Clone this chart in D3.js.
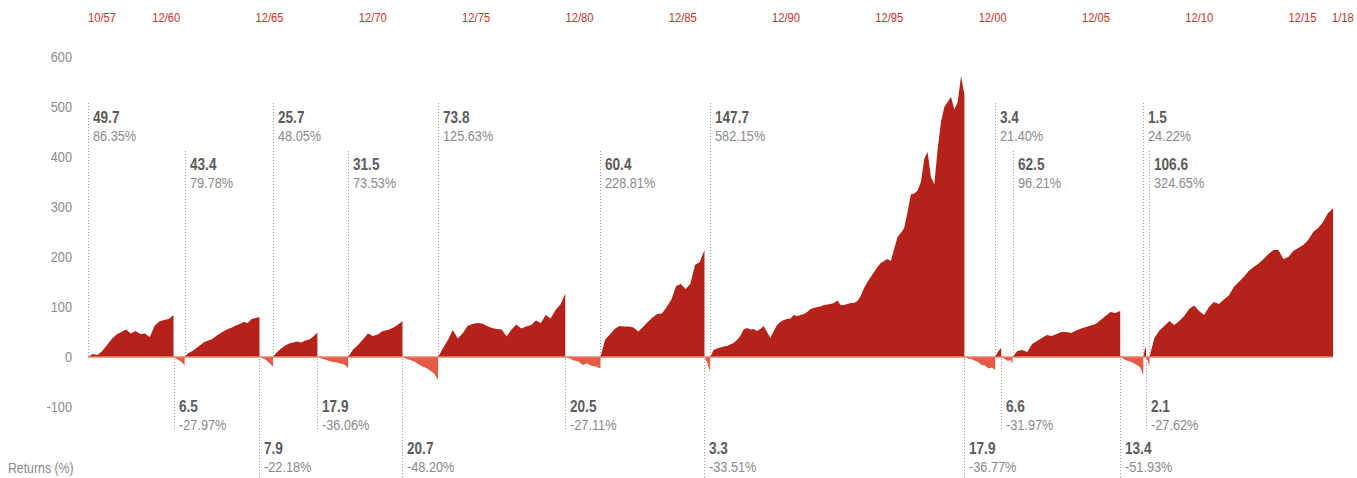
<!DOCTYPE html>
<html><head><meta charset="utf-8">
<script src="https://cdn.jsdelivr.net/npm/d3@7"></script>
<style>
html,body{margin:0;padding:0;background:#fff;}
svg{display:block;font-family:"Liberation Sans",Arial,Helvetica,sans-serif;}
</style></head><body>
<svg id="chart" width="1357" height="478"></svg>
<script>
// ---- data ----
const cycleStarts = ["1957-10-22","1961-12-12","1962-06-26","1966-02-09","1966-10-07","1968-11-29","1970-05-26","1973-01-11","1974-10-03","1980-11-28","1982-08-12","1987-08-25","1987-12-04","2000-03-24","2001-09-21","2002-01-04","2002-07-23","2007-10-09","2008-11-20","2009-01-06","2009-03-09"];
const endDate = "2018-01-26";
const cycleMonths = ["49.7","6.5","43.4","7.9","25.7","17.9","31.5","20.7","73.8","20.5","60.4","3.3","147.7","17.9","3.4","6.6","62.5","13.4","1.5","2.1","106.6"];
const cycleReturns = ["86.35%","-27.97%","79.78%","-22.18%","48.05%","-36.06%","73.53%","-48.20%","125.63%","-27.11%","228.81%","-33.51%","582.15%","-36.77%","21.40%","-31.97%","96.21%","-51.93%","24.22%","-27.62%","324.65%"];

const bull1957 = [0,6,4,12,24,36,45,50,55,47,52,46,47,40,62,71,74,76,84];
const bear1961 = [0,-3,-5,-8,-12,-17];
const bull1962 = [0,8,12,18,24,30,33,36,42,47,52,56,59,63,66,70,68,76,78,80];
const bear1966 = [0,-3,-6,-13,-19];
const bull1966 = [0,10,17,23,27,29,31,29,33,35,41,49];
const bear1968 = [0,-3,-5,-8,-10,-11,-13,-15,-22];
const bull1970 = [0,15,24,35,47,42,45,52,54,58,64,72];
const bear1973 = [0,-4,-6,-9,-14,-19,-22,-27,-33,-46];
const bull1974 = [0,18,34,54,37,47,62,66,68,67,62,58,56,55,41,55,65,57,61,64,73,68,84,77,94,105,127];
const bear1980 = [0,-3,-7,-9,-16,-13,-18,-19,-23];
const bull1982 = [0,35,45,56,62,61,61,59,51,60,70,79,86,87,100,115,142,146,136,146,184,190,214];
const bear1987 = [0,-12,-30];
const bull1987 = [0,14,17,19,21,22,25,28,34,42,55,58,55,56,52,56,62,50,38,52,64,70,74,76,77,84,82,84,86,90,96,98,100,101,104,105,106,108,113,104,104,106,108,108,112,122,138,150,160,170,180,188,192,196,192,216,240,248,258,290,325,327,333,350,396,410,360,345,415,470,500,510,520,495,510,562,524];
const bear2000 = [0,-3,-4,-7,-10,-16,-17,-23,-21,-26];
const bull2001 = [0,8,14,18];
const bear2002 = [0,-3,-5,-8,-6,-13];
const bull2002 = [0,12,14,10,26,32,38,44,42,46,50,50,48,53,57,60,63,66,74,82,90,88,92];
const bear2007 = [0,-4,-7,-9,-12,-16,-20,-36];
const bull2008 = [0,14,21];
const bear2009 = [0,-8,-19];
const bull2009 = [0,38,53,62,72,64,72,82,96,103,92,84,100,110,106,115,123,140,150,160,172,180,187,196,206,214,214,196,200,212,218,224,234,250,258,270,288,297];

const cycleValues = [bull1957,bear1961,bull1962,bear1966,bull1966,bear1968,bull1970,bear1973,bull1974,bear1980,bull1982,bear1987,bull1987,bear2000,bull2001,bear2002,bull2002,bear2007,bull2008,bear2009,bull2009];

const topTickDates = ["1957-10-22","1960-12-01","1965-12-01","1970-12-01","1975-12-01","1980-12-01","1985-12-01","1990-12-01","1995-12-01","2000-12-01","2005-12-01","2010-12-01","2015-12-01","2018-01-26"];
const topTickLabels = ["10/57","12/60","12/65","12/70","12/75","12/80","12/85","12/90","12/95","12/00","12/05","12/10","12/15","1/18"];
const yTicks = [600,500,400,300,200,100,0,-100];
const yTitle = "Returns (%)";

// ---- layout (not data) ----
const labelTier = [0,0,1,1,0,0,1,1,0,0,1,1,0,1,0,0,1,1,0,0,1];
const BULL = "#b5221a", BEAR = "#e35b45";
const SX = 0.85; // condensed look

const parse = d3.utcParse("%Y-%m-%d");
const svg = d3.select("#chart");
const x = d3.scaleUtc().domain([parse(cycleStarts[0]), parse(endDate)]).range([88, 1333]);
const y = d3.scaleLinear().domain([-100, 600]).range([407, 57]);

function label(px, py, str, size, fill, weight, anchor, sx) {
  svg.append("text")
    .attr("transform", `translate(${px},${py}) scale(${sx || SX},1)`)
    .attr("dy", "0.35em")
    .attr("font-size", size).attr("fill", fill)
    .attr("font-weight", weight || "normal")
    .attr("text-anchor", anchor || "start")
    .text(str);
}

const area = d3.area().x(d => d.x).y0(y(0)).y1(d => y(d.v)).curve(d3.curveLinear);

cycleValues.forEach((vals, k) => {
  const x0 = x(parse(cycleStarts[k]));
  const x1 = x(parse(k + 1 < cycleStarts.length ? cycleStarts[k + 1] : endDate));
  const pts = vals.map((v, i) => ({x: x0 + (x1 - x0) * i / (vals.length - 1), v}));
  const isBull = !cycleReturns[k].startsWith("-");
  svg.append("path").attr("d", area(pts)).attr("fill", isBull ? BULL : BEAR);
});

// baseline
svg.append("line").attr("x1", x.range()[0]).attr("x2", x.range()[1])
  .attr("y1", y(0)).attr("y2", y(0)).attr("stroke", "#e8806c").attr("stroke-width", 1.3);

// cycle labels
const tierTop = [[103, 117, 136], [151, 164, 183]];
const tierBottom = [[430, 406, 425], [478, 448, 467]];
cycleStarts.forEach((s, k) => {
  const lx = Math.round(x(parse(s))) + 0.5;
  const isBull = !cycleReturns[k].startsWith("-");
  const t = isBull ? tierTop[labelTier[k]] : tierBottom[labelTier[k]];
  svg.append("line").attr("x1", lx).attr("x2", lx)
    .attr("y1", isBull ? t[0] : y(0) + 2).attr("y2", isBull ? y(0) : t[0])
    .attr("stroke", "#9a9a9a").attr("stroke-width", 1).attr("stroke-dasharray", "1,2");
  label(lx + 4.5, t[1], cycleMonths[k], 16, "#5b5b5b", "bold");
  label(lx + 4.5, t[2], cycleReturns[k], 15, "#8a8a8a");
});

// y axis labels
yTicks.forEach(d => label(72, y(d), String(d), 15, "#8a8a8a", "normal", "end"));
label(8, 468, yTitle, 15, "#8a8a8a", "normal", "start", 0.82);

// top date labels
topTickDates.forEach((d, i) => label(Math.min(x(parse(d)), 1332), 17, topTickLabels[i], 13.5, "#c4352b", "normal", "start", 0.83));
</script>
</body></html>
